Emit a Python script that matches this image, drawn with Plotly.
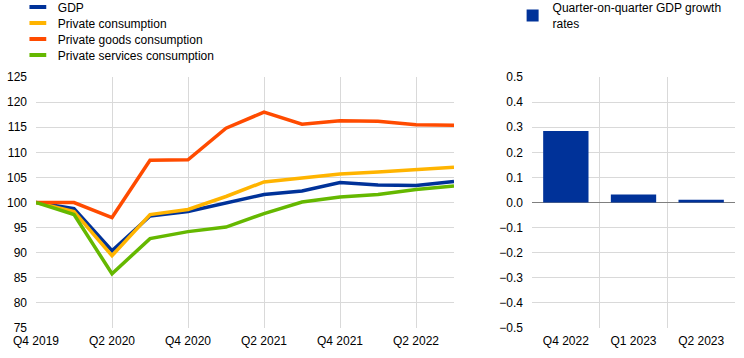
import plotly.graph_objects as go

quarters = ["Q4 2019", "Q1 2020", "Q2 2020", "Q3 2020", "Q4 2020", "Q1 2021",
            "Q2 2021", "Q3 2021", "Q4 2021", "Q1 2022", "Q2 2022", "Q3 2022"]
tick_quarters = ["Q4 2019", "Q2 2020", "Q4 2020", "Q2 2021", "Q4 2021", "Q2 2022"]

gdp = [100, 98.8, 90.4, 97.3, 98.2, 99.9, 101.6, 102.3, 104.0, 103.5, 103.4, 104.2]
private_cons = [100, 98.2, 89.4, 97.6, 98.6, 101.2, 104.1, 104.9, 105.7, 106.1, 106.6, 107.0]
goods_cons = [100, 100.0, 97.0, 108.4, 108.5, 114.8, 118.0, 115.6, 116.3, 116.2, 115.5, 115.4]
services_cons = [100, 97.6, 85.8, 92.8, 94.2, 95.1, 97.8, 100.1, 101.1, 101.6, 102.6, 103.3]

bar_quarters = ["Q4 2022", "Q1 2023", "Q2 2023"]
qoq_growth = [0.285, 0.032, 0.011]

series = [
    ("GDP", gdp, "#003299"),
    ("Private consumption", private_cons, "#ffb400"),
    ("Private goods consumption", goods_cons, "#ff4b00"),
    ("Private services consumption", services_cons, "#65b800"),
]

FONT = "Liberation Sans, Arial, sans-serif"
GRID = "#d9d9d9"

fig = go.Figure()
for name, vals, col in series:
    fig.add_trace(go.Scatter(x=quarters, y=vals, mode="lines", name=name,
                             line=dict(color=col, width=3.5),
                             showlegend=False, xaxis="x", yaxis="y"))

legend_ids = ["legend", "legend3", "legend4", "legend5"]
for (name, vals, col), lid in zip(series, legend_ids):
    fig.add_trace(go.Scatter(x=[None], y=[None], mode="markers", name=name,
                             marker=dict(symbol="line-ew", size=12,
                                         line=dict(color=col, width=4)),
                             legend=lid, xaxis="x", yaxis="y"))

fig.add_trace(go.Bar(x=bar_quarters, y=qoq_growth, name="Quarter-on-quarter GDP growth<br>rates",
                     marker=dict(color="#003299", line=dict(width=0)), width=0.67,
                     legend="legend2", xaxis="x2", yaxis="y2"))

fig.add_shape(type="line", xref="x domain", yref="y", x0=0, x1=1, y0=100, y1=100,
              layer="below", line=dict(color="#7f7f7f", width=1.2))

H = 358.0
def leg(center_px, x):
    return dict(xref="container", yref="container", x=x, y=1 - center_px / H,
                xanchor="left", yanchor="middle", bgcolor="rgba(0,0,0,0)",
                font=dict(size=12))

fig.update_layout(
    width=744, height=358,
    margin=dict(l=36, r=9, t=77, b=30, autoexpand=False),
    paper_bgcolor="white", plot_bgcolor="white",
    font=dict(family=FONT, size=12, color="#000000"),
    xaxis=dict(domain=[0, 0.598], type="category", categoryorder="array",
               categoryarray=quarters, range=[0, 11], tickmode="array",
               tickvals=tick_quarters, showgrid=True, gridcolor=GRID, gridwidth=1,
               showline=False, zeroline=False, ticks="", ticklabelstandoff=4,
               tickangle=0, automargin=False),
    yaxis=dict(range=[75, 125], dtick=5, tick0=75, showgrid=True, gridcolor=GRID,
               zeroline=False, showline=False, ticks="", ticklabelstandoff=8,
               automargin=False),
    xaxis2=dict(domain=[0.7096, 1], type="category", tickson="boundaries",
                showgrid=True, gridcolor=GRID, showline=False, zeroline=False,
                ticks="", range=[-0.5, 2.5], ticklabelstandoff=4, tickangle=0,
                automargin=False),
    yaxis2=dict(anchor="x2", range=[-0.5, 0.5], dtick=0.1, tick0=0, tickformat=".1f",
                showgrid=True, gridcolor=GRID, zeroline=True, zerolinecolor="#7f7f7f",
                zerolinewidth=1.2, showline=False, ticks="", ticklabelstandoff=8,
                automargin=False),
    legend=leg(7, 0.024),
    legend3=leg(23, 0.024),
    legend4=leg(39, 0.024),
    legend5=leg(55, 0.024),
    legend2=leg(16, 0.689),
    bargap=0.33,
)

fig.write_html("out.html", config={"displayModeBar": False},
               post_script="document.body.style.margin='0';")
